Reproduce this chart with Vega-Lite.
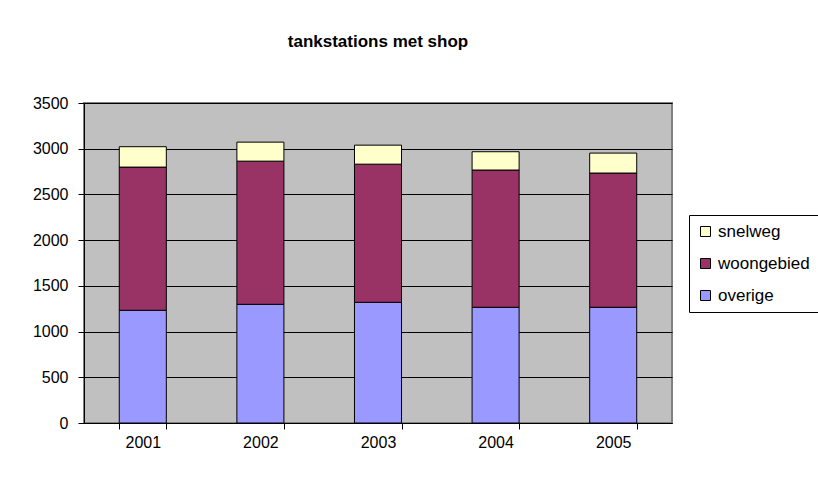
{
  "$schema": "https://vega.github.io/schema/vega-lite/v6.json",
  "width": 588,
  "height": 320,
  "autosize": {"type": "none"},
  "padding": {"left": 84, "top": 103, "right": 146, "bottom": 60},
  "background": "white",
  "title": {
    "text": "tankstations met shop",
    "font": "Liberation Sans",
    "fontSize": 17,
    "fontWeight": "bold",
    "color": "black",
    "anchor": "middle",
    "baseline": "alphabetic",
    "offset": 31
  },
  "data": {
    "values": [
      {"jaar": "2001", "reeks": "overige", "aantal": 1233},
      {"jaar": "2001", "reeks": "woongebied", "aantal": 1566},
      {"jaar": "2001", "reeks": "snelweg", "aantal": 223},
      {"jaar": "2002", "reeks": "overige", "aantal": 1298},
      {"jaar": "2002", "reeks": "woongebied", "aantal": 1566},
      {"jaar": "2002", "reeks": "snelweg", "aantal": 208},
      {"jaar": "2003", "reeks": "overige", "aantal": 1320},
      {"jaar": "2003", "reeks": "woongebied", "aantal": 1511},
      {"jaar": "2003", "reeks": "snelweg", "aantal": 208},
      {"jaar": "2004", "reeks": "overige", "aantal": 1266},
      {"jaar": "2004", "reeks": "woongebied", "aantal": 1501},
      {"jaar": "2004", "reeks": "snelweg", "aantal": 200},
      {"jaar": "2005", "reeks": "overige", "aantal": 1266},
      {"jaar": "2005", "reeks": "woongebied", "aantal": 1468},
      {"jaar": "2005", "reeks": "snelweg", "aantal": 218}
    ]
  },
  "transform": [
    {"calculate": "indexof(['overige', 'woongebied', 'snelweg'], datum.reeks)", "as": "stapel"}
  ],
  "mark": {"type": "bar", "stroke": "black", "strokeWidth": 1},
  "encoding": {
    "x": {
      "field": "jaar",
      "type": "ordinal",
      "title": null,
      "scale": {"paddingInner": 0.6, "paddingOuter": 0.3},
      "axis": {
        "labelAngle": 0,
        "tickBand": "extent",
        "tickSize": 6,
        "labelPadding": 5
      }
    },
    "y": {
      "field": "aantal",
      "type": "quantitative",
      "aggregate": "sum",
      "stack": "zero",
      "title": null,
      "scale": {"domain": [0, 3500], "nice": false},
      "axis": {
        "values": [0, 500, 1000, 1500, 2000, 2500, 3000, 3500],
        "format": "d",
        "tickSize": 6,
        "labelPadding": 10,
        "grid": true
      }
    },
    "color": {
      "field": "reeks",
      "type": "nominal",
      "scale": {
        "domain": ["snelweg", "woongebied", "overige"],
        "range": ["#FFFFCC", "#993366", "#9999FF"]
      },
      "legend": {
        "title": null,
        "orient": "none",
        "legendX": 605,
        "legendY": 112,
        "symbolType": "square",
        "symbolSize": 100,
        "symbolStrokeColor": "black",
        "symbolStrokeWidth": 1,
        "symbolOpacity": 1,
        "labelFontSize": 17,
        "labelFont": "Liberation Sans",
        "labelColor": "black",
        "labelOffset": 4,
        "rowPadding": 14,
        "padding": 8,
        "strokeColor": "black",
        "fillColor": "white"
      }
    },
    "order": {"field": "stapel", "type": "quantitative", "sort": "ascending"}
  },
  "config": {
    "view": {"fill": "#C0C0C0", "stroke": "#808080", "strokeWidth": 2},
    "axis": {
      "labelFont": "Liberation Sans",
      "labelFontSize": 16,
      "labelColor": "black",
      "domainColor": "black",
      "domainWidth": 1,
      "tickColor": "black",
      "tickWidth": 1,
      "gridColor": "black",
      "gridWidth": 1,
      "gridOpacity": 1
    }
  }
}
